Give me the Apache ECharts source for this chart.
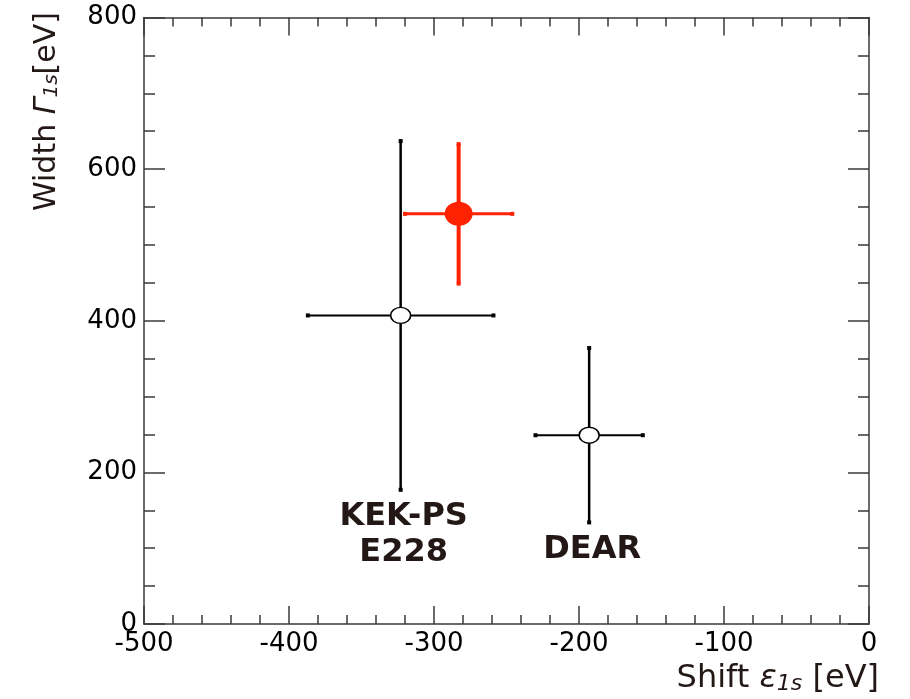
<!DOCTYPE html>
<html><head><meta charset="utf-8">
<script src="https://cdn.jsdelivr.net/npm/echarts@6/dist/echarts.min.js"></script>
<style>html,body{margin:0;padding:0;background:#fff}#c{width:910px;height:699px}</style>
</head><body><div id="c"></div>
<script>
// ---- data ----
const experiments = ['KEK-PS E228', 'SIDDHARTA', 'DEAR'];
const shiftValues = [-323, -283, -193];   // ε1s [eV]
const shiftErrors = [64, 37, 37];
const widthValues = [407, 541, 249];      // Γ1s [eV]
const widthErrors = [230, 92, 115];
const annotationTexts = ['KEK-PS\nE228', '', 'DEAR'];
const xTickValues = [-500, -400, -300, -200, -100, 0];
const yTickValues = [0, 200, 400, 600, 800];

// ---- styles ----
const markColors = ['#000000', '#ff2200', '#000000'];
const hLineWidths = [2, 3, 2];
const vLineWidths = [2.5, 4, 2.5];
const markerSizes = [[20, 16], [28, 24], [20, 16]];
const markerFills = ['#ffffff', '#ff2200', '#ffffff'];
const FONT = '"DejaVu Sans", "Liberation Sans", sans-serif';
const TXT = '#231815';
const AX = '#3a3a3a';

const rows = experiments.map((n, i) => [shiftValues[i], widthValues[i], shiftErrors[i], widthErrors[i], i]);

const chart = echarts.init(document.getElementById('c'), null, { renderer: 'canvas' });

function axisCommon(showLabel, pos, isX) {
  return {
    type: 'value',
    position: pos,
    min: isX ? xTickValues[0] : yTickValues[0],
    max: isX ? xTickValues[xTickValues.length - 1] : yTickValues[yTickValues.length - 1],
    interval: isX ? 100 : 200,
    axisLine: { show: true, onZero: false, lineStyle: { color: AX, width: 1.5 } },
    axisTick: { show: true, inside: true, length: isX ? 18 : 21, lineStyle: { color: AX, width: 1.5 } },
    minorTick: { show: true, splitNumber: isX ? 5 : 4, length: isX ? 9 : 11, lineStyle: { color: AX, width: 1.5 } },
    axisLabel: {
      show: showLabel, fontSize: 26, fontFamily: FONT, color: '#000',
      margin: isX ? 7 : 7, showMinLabel: true, showMaxLabel: true
    },
    splitLine: { show: false },
    minorSplitLine: { show: false }
  };
}

const option = {
  backgroundColor: '#ffffff',
  animation: false,
  grid: { left: 144, right: 41, top: 17.5, bottom: 75, containLabel: false },
  xAxis: [axisCommon(true, 'bottom', true), axisCommon(false, 'top', true)],
  yAxis: [axisCommon(true, 'left', false), axisCommon(false, 'right', false)],
  series: [
    {
      type: 'custom',
      xAxisIndex: 0, yAxisIndex: 0,
      data: rows,
      z: 2,
      renderItem: function (params, api) {
        const x = api.value(0), y = api.value(1), ex = api.value(2), ey = api.value(3);
        const i = api.value(4);
        const l = api.coord([x - ex, y]), r = api.coord([x + ex, y]);
        const t = api.coord([x, y + ey]), b = api.coord([x, y - ey]);
        const col = markColors[i];
        const cap = 4;
        const children = [
          { type: 'line', shape: { x1: l[0], y1: l[1], x2: r[0], y2: r[1] }, style: { stroke: col, lineWidth: hLineWidths[i] } },
          { type: 'line', shape: { x1: t[0], y1: t[1], x2: b[0], y2: b[1] }, style: { stroke: col, lineWidth: vLineWidths[i] } },
          { type: 'rect', shape: { x: l[0] - cap / 2, y: l[1] - cap / 2, width: cap, height: cap }, style: { fill: col } },
          { type: 'rect', shape: { x: r[0] - cap / 2, y: r[1] - cap / 2, width: cap, height: cap }, style: { fill: col } },
          { type: 'rect', shape: { x: t[0] - cap / 2, y: t[1] - cap / 2, width: cap, height: cap }, style: { fill: col } },
          { type: 'rect', shape: { x: b[0] - cap / 2, y: b[1] - cap / 2, width: cap, height: cap }, style: { fill: col } }
        ];
        if (annotationTexts[i]) {
          children.push({
            type: 'text',
            x: b[0] + 3, y: b[1] + 9,
            style: {
              text: annotationTexts[i], fill: TXT, fontSize: 32, fontWeight: 'bold', fontFamily: FONT,
              align: 'center', verticalAlign: 'top', lineHeight: 36
            }
          });
        }
        return { type: 'group', children: children };
      }
    },
    {
      type: 'scatter',
      xAxisIndex: 0, yAxisIndex: 0,
      z: 3,
      data: rows.map((r, i) => ({
        value: [r[0], r[1]],
        symbolSize: markerSizes[i],
        itemStyle: { color: markerFills[i], borderColor: markColors[i], borderWidth: i === 1 ? 0 : 1.5, opacity: 1 }
      })),
      symbol: 'circle'
    }
  ],
  graphic: [
    {
      type: 'text',
      x: 879, y: 695,
      style: {
        text: 'Shift {g|ε}{s|1s} [eV]',
        fill: TXT, fontSize: 32, fontFamily: FONT, align: 'right', verticalAlign: 'bottom',
        rich: {
          g: { fontSize: 32, fontStyle: 'italic', fontFamily: FONT, fill: TXT },
          s: { fontSize: 22, fontStyle: 'italic', fontFamily: FONT, fill: TXT, verticalAlign: 'bottom', lineHeight: 22 }
        }
      }
    },
    {
      type: 'text',
      x: 47, y: 211,
      rotation: Math.PI / 2,
      style: {
        text: 'Width {g|Γ}{s|1s}[eV]',
        fill: TXT, fontSize: 30, fontFamily: FONT, align: 'left', verticalAlign: 'middle',
        rich: {
          g: { fontSize: 30, fontStyle: 'italic', fontFamily: FONT, fill: TXT },
          s: { fontSize: 20, fontStyle: 'italic', fontFamily: FONT, fill: TXT, verticalAlign: 'bottom', lineHeight: 20 }
        }
      }
    }
  ]
};
chart.setOption(option);
</script>
</body></html>
